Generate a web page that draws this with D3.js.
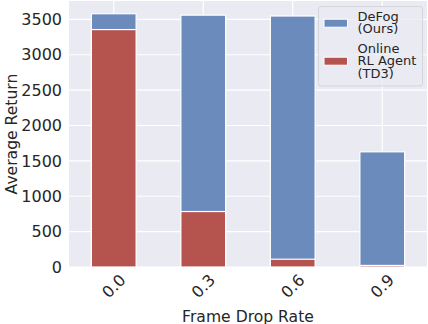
<!DOCTYPE html>
<html>
<head>
<meta charset="utf-8">
<script src="https://cdn.jsdelivr.net/npm/d3@7"></script>
<style>
  body { margin: 0; background: #ffffff; }
  text { font-family: "DejaVu Sans", sans-serif; fill: #262626; }
</style>
</head>
<body>
<script>
const categories = ["0.0", "0.3", "0.6", "0.9"];
const defogValues = [3580, 3560, 3548, 1628];
const td3Values = [3356, 784, 110, 22];
const yTicks = [0, 500, 1000, 1500, 2000, 2500, 3000, 3500];
const legendEntries = [
    { lines: ["DeFog", "(Ours)"], color: "#6b8bbd" },
    { lines: ["Online", "RL Agent", "(TD3)"], color: "#b5534f" }
];

const [width, height] = [428, 324];
const margin = { top: 1, right: 1, bottom: 57, left: 69 };

const svg = d3.select("body").append("svg")
    .attr("width", width)
    .attr("height", height)
    .attr("viewBox", [0, 0, width, height]);

const x = d3.scaleBand()
    .domain(categories)
    .range([margin.left, width - margin.right])
    .paddingInner(0.5)
    .paddingOuter(0.25);

const y = d3.scaleLinear()
    .domain([0, 3760])
    .range([height - margin.bottom, margin.top]);

// plot background
svg.append("rect")
    .attr("x", margin.left)
    .attr("y", margin.top)
    .attr("width", width - margin.right - margin.left)
    .attr("height", y(0) - margin.top)
    .attr("fill", "#eaeaf2");

// grid
svg.append("g")
    .attr("stroke", "#ffffff")
    .attr("stroke-width", 1.2)
    .call(g => g.selectAll(".hy")
        .data(yTicks)
        .join("line")
        .attr("x1", margin.left)
        .attr("x2", width - margin.right)
        .attr("y1", d => y(d))
        .attr("y2", d => y(d)))
    .call(g => g.selectAll(".vx")
        .data(categories)
        .join("line")
        .attr("x1", d => x(d) + x.bandwidth() / 2)
        .attr("x2", d => x(d) + x.bandwidth() / 2)
        .attr("y1", margin.top)
        .attr("y2", y(0)));

// bars: DeFog behind, TD3 in front
const bars = svg.append("g")
    .attr("stroke", "#ffffff")
    .attr("stroke-width", 1.2);

bars.selectAll(".defog")
    .data(categories)
    .join("rect")
    .attr("x", d => x(d))
    .attr("y", (d, i) => y(defogValues[i]))
    .attr("width", x.bandwidth())
    .attr("height", (d, i) => y(0) - y(defogValues[i]))
    .attr("fill", legendEntries[0].color);

bars.selectAll(".td3")
    .data(categories)
    .join("rect")
    .attr("x", d => x(d))
    .attr("y", (d, i) => y(td3Values[i]))
    .attr("width", x.bandwidth())
    .attr("height", (d, i) => y(0) - y(td3Values[i]))
    .attr("fill", legendEntries[1].color);

// y axis
svg.append("g")
    .attr("transform", `translate(${margin.left},0)`)
    .call(d3.axisLeft(y).tickValues(yTicks).tickFormat(d3.format("d")).tickSize(0).tickPadding(7))
    .call(g => g.select(".domain").remove())
    .call(g => g.selectAll("text")
        .attr("font-size", 16)
        .attr("font-family", "DejaVu Sans")
        .attr("fill", "#262626"));

// x axis with rotated labels
svg.append("g")
    .attr("transform", `translate(0,${y(0)})`)
    .call(d3.axisBottom(x).tickSize(0).tickPadding(0))
    .call(g => g.select(".domain").remove())
    .call(g => g.selectAll("text")
        .attr("font-size", 16)
        .attr("font-family", "DejaVu Sans")
        .attr("fill", "#262626")
        .attr("text-anchor", "middle")
        .attr("dy", "0.35em")
        .attr("y", 0)
        .attr("transform", "translate(0,19) rotate(-45)"));

// axis titles
svg.append("text")
    .attr("x", (margin.left + width - margin.right) / 2)
    .attr("y", 321.5)
    .attr("text-anchor", "middle")
    .attr("font-size", 15.6)
    .text("Frame Drop Rate");

svg.append("text")
    .attr("transform", `translate(17,${(margin.top + y(0)) / 2}) rotate(-90)`)
    .attr("text-anchor", "middle")
    .attr("font-size", 15.6)
    .text("Average Return");

// legend
const legend = svg.append("g");
legend.append("rect")
    .attr("x", 318.5)
    .attr("y", 6.5)
    .attr("width", 104)
    .attr("height", 79.5)
    .attr("rx", 2.5)
    .attr("fill", "#eaeaf2")
    .attr("fill-opacity", 0.8)
    .attr("stroke", "#d5d5dc")
    .attr("stroke-width", 1);

const lineH = 12.4;
let baseY = 21;
legendEntries.forEach(entry => {
    const n = entry.lines.length;
    const midY = baseY + (n - 1) * lineH / 2 - 4;
    legend.append("rect")
        .attr("x", 324)
        .attr("y", midY - 4)
        .attr("width", 23.5)
        .attr("height", 8)
        .attr("fill", entry.color)
        .attr("stroke", "#ffffff")
        .attr("stroke-width", 1);
    entry.lines.forEach((line, j) => {
        legend.append("text")
            .attr("x", 357.5)
            .attr("y", baseY + j * lineH)
            .attr("font-size", 13)
            .text(line);
    });
    baseY += n * lineH + 7;
});
</script>
</body>
</html>
